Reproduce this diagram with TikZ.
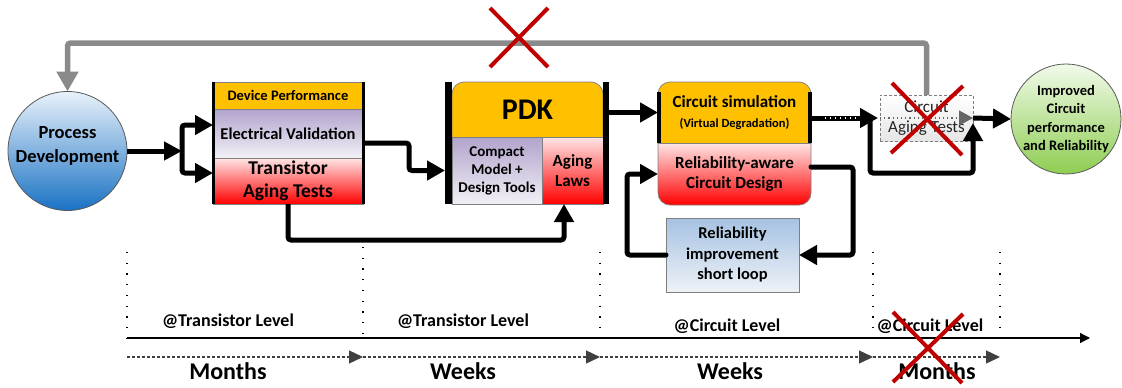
\documentclass[tikz,border=0pt]{standalone}
\usepackage{fontspec}
\setmainfont{Carlito}
\usetikzlibrary{arrows.meta}
\definecolor{orng}{HTML}{FFC000}
\definecolor{lavtop}{HTML}{B2A3CC}
\definecolor{lavbot}{HTML}{F2F0F6}
\definecolor{pinktop}{HTML}{FFE6E6}
\definecolor{redbot}{HTML}{FF0000}
\definecolor{xred}{HTML}{C00000}
\definecolor{bluetop}{HTML}{E9F2FB}
\definecolor{bluebot}{HTML}{1A72C4}
\definecolor{greentop}{HTML}{F1FAE9}
\definecolor{greenbot}{HTML}{8ECD52}
\definecolor{rimtop}{HTML}{A6C2E2}
\definecolor{rimbot}{HTML}{EEF2F7}
\definecolor{edge}{HTML}{7F7F7F}
\definecolor{edgedark}{HTML}{595959}
\definecolor{fbgray}{HTML}{8A8A8A}
\definecolor{tlgray}{HTML}{404040}
\begin{document}
\begin{tikzpicture}[x=1pt,y=-1pt,
  every node/.style={inner sep=0pt,outer sep=0pt},
  fb/.style 2 args={font=\bfseries\fontsize{#1}{#2}\selectfont},
  bx/.style={draw=edge,line width=0.7pt,rectangle},
  conn/.style={line width=5pt,rounded corners=3pt},
  arr/.style={conn,-{Triangle[length=18pt,width=19pt]}},
  xmark/.style={xred,line width=4pt},
  tick/.style={line width=1.3pt,dash pattern=on 1.3pt off 9.4pt},
  dsh/.style={tlgray,line width=1.3pt,dash pattern=on 3pt off 2pt,-{Triangle[length=14pt,width=13pt]}},
]
\useasboundingbox (0,0) rectangle (1122,388);

% Process development
\node[circle,draw=edgedark,line width=0.8pt,top color=bluetop,bottom color=bluebot,minimum size=119pt] (pd) at (67.5,151) {};
\node[fb={18.5}{23.5},align=center] (pdt) at (67.5,146) {Process\\Development};

% Block 1
\node[bx,fill=orng,minimum width=150pt,minimum height=27pt,fb={14.5}{17}] (dp) at (288,95.5) {Device Performance};
\node[bx,top color=lavtop,bottom color=lavbot,minimum width=150pt,minimum height=49pt,fb={16.5}{19}] (ev) at (288,133.5) {Electrical Validation};
\node[bx,top color=pinktop,bottom color=redbot,minimum width=150pt,minimum height=46pt,align=center,fb={19.5}{23}] (at) at (288,181) {Transistor\\Aging Tests};
\draw[line width=3pt] (dp.north west) -- (at.south west);
\draw[line width=3pt] (dp.north east) -- (at.south east);

% Block 2 (PDK)
\path[fill=orng,draw=edge,line width=0.7pt,rounded corners=12pt] (452,137) |- (527.5,82) -| (603,137);
\node[fb={30}{36},minimum width=151pt,minimum height=55pt] (pdk) at (527.5,109.5) {PDK};
\node[bx,top color=lavtop,bottom color=lavbot,minimum width=90pt,minimum height=67pt,align=center,fb={15}{18}] (cm) at (497,170.5) {Compact\\Model +\\Design Tools};
\node[bx,top color=pinktop,bottom color=redbot,minimum width=61pt,minimum height=67pt,align=center,fb={17}{20}] (al) at (572.5,170.5) {Aging\\Laws};
\draw[line width=6.5pt] (448.5,82) -- (448.5,204);
\draw[line width=6pt] (606,82) -- (606,204);

% Block 3 (circuit)
\path[fill=orng,draw=edge,line width=0.7pt,rounded corners=12pt] (658,143) |- (734.5,82) -| (811,143);
\path[top color=pinktop,bottom color=redbot,draw=edge,line width=0.7pt,rounded corners=12pt] (658,143) |- (734.5,205) -| (811,143);
\draw[edge,line width=0.7pt] (658,143) -- (811,143);
\draw[line width=3.5pt] (659,92) -- (659,143);
\draw[line width=3.5pt] (810,92) -- (810,143);
\node[minimum width=153pt,minimum height=61pt,align=center,fb={17}{20}] (cs) at (734.5,112.5) {Circuit simulation\\{\fontsize{12.5}{15}\selectfont (Virtual Degradation)}};
\node[minimum width=153pt,minimum height=62pt,align=center,fb={17}{20}] (rcd) at (734.5,174) {Reliability-aware\\Circuit Design};

% Reliability improvement
\node[bx,top color=rimtop,bottom color=rimbot,minimum width=133pt,minimum height=74pt,align=center,fb={16.5}{20.5}] (rim) at (732.5,255) {Reliability\\improvement\\short loop};

% Circuit aging tests
\node[draw=edge,line width=0.8pt,dash pattern=on 3pt off 2pt,top color=white,bottom color=gray!20,minimum width=93pt,minimum height=46pt,align=center,font=\fontsize{17}{20}\selectfont,text=black!85] (cat) at (926.5,118) {Circuit\\Aging Tests};

% Improved
\node[circle,draw=edgedark,line width=0.8pt,top color=greentop,bottom color=greenbot,minimum size=110pt,align=center,fb={14.5}{18.3}] (imp) at (1066,119) {Improved\\Circuit\\performance\\and Reliability};

% feedback loop (grey)
\draw[fbgray,line width=5.5pt,rounded corners=3pt,-{Triangle[length=20pt,width=21pt]}] (cat.north) -- ++(0,-52) -| (pd.north);

% connectors
\coordinate (fk) at (182,151);
\draw[conn,-{Triangle[length=18pt,width=18pt]}] (pd.east) -- (fk);
\draw[arr] (fk) |- ([yshift=8.5pt]ev.west);
\draw[arr] (fk) |- ([yshift=8pt]at.west);
\draw[arr] ([yshift=-9.5pt]ev.east) -- ++(46,0) |- ([xshift=-7pt]cm.west);
\draw[arr] (at.south) -- ++(0,36) -| ([xshift=-8.5pt]al.south);
\draw[arr] (cs.west -| pdk.east) -- (cs.west);

\draw[line width=5pt,-{Triangle[length=18pt,width=19pt]}] (cs.east |- cat.west) -- ([xshift=-2pt]cat.west);
\draw[white,line width=1.4pt,dash pattern=on 1.4pt off 3.6pt] ([xshift=14pt]cs.east |- cat.west) -- ([xshift=-24pt]cat.west);
\draw[arr] ([xshift=-10pt]cat.west) -- ++(0,55) -| ([yshift=-5pt]cat.east);
\draw[black!60,line width=1.2pt,dash pattern=on 1.2pt off 3pt,-{Triangle[length=14pt,width=15pt]}] (cat.west) -- (cat.east);
\draw[arr] (cat.east) -- (imp.west);

\draw[arr,line cap=round] ([yshift=7pt]rcd.east) -- ++(42,0) |- (rim.east);
\draw[arr,line cap=round] (rim.west) -- ++(-39,0) |- (rcd.west);

% timeline
\foreach \x/\t in {127/252,363/247,600/252,873/252,1000/252}
  \draw[tick] (\x,\t) -- (\x,338);
\coordinate (a0) at (127,338);
\coordinate (a1) at (1090,338);
\draw[line width=1.2pt,-{Triangle[length=10pt,width=10pt]}] (a0) -- (a1);
\coordinate (t0) at (127,357);
\coordinate (t1) at (363,357);
\coordinate (t2) at (600,357);
\coordinate (t3) at (873,357);
\coordinate (t4) at (1000,357);
\draw[dsh] (t0) -- (t1);
\draw[dsh] (t1) -- (t2);
\draw[dsh] (t2) -- (t3);
\draw[dsh] (t3) -- (t4);

\node[fb={18}{22},anchor=base] (lv1) at (228,326) {@Transistor Level};
\node[fb={18}{22},anchor=base] (lv2) at (463,326) {@Transistor Level};
\node[fb={18}{22},anchor=base] (lv3) at (727,331) {@Circuit Level};
\node[fb={18}{22},anchor=base] (lv4) at (930,331) {@Circuit Level};
\node[fb={24}{28},anchor=base] (tm1) at (228,379) {Months};
\node[fb={24}{28},anchor=base] (tw1) at (463,379) {Weeks};
\node[fb={24}{28},anchor=base] (tw2) at (730,379) {Weeks};
\node[fb={24}{28},anchor=base] (tm2) at (937,379) {Months};

% red crosses
\draw[xmark] (490,8) -- (548,67);
\draw[xmark] (548,8) -- (490,67);
\draw[xmark] (892,83) -- (962,155);
\draw[xmark] (963,86) -- (891,153);
\draw[xmark] (893,312) -- (962,383);
\draw[xmark] (963,314) -- (893,382);
\end{tikzpicture}
\end{document}
